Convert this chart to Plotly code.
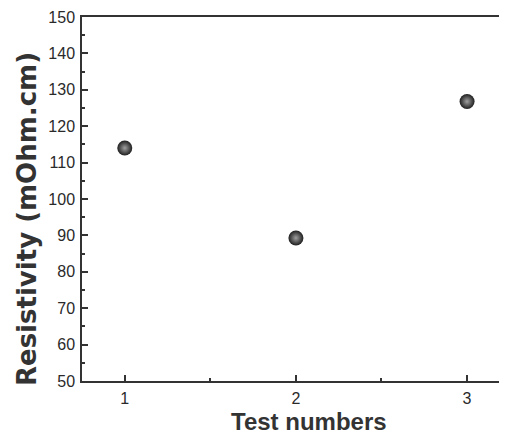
import plotly.graph_objects as go

test_numbers = [1, 2, 3]
resistivity = [114, 89.3, 126.8]
x_ticks = [1, 2, 3]
y_ticks = [50, 60, 70, 80, 90, 100, 110, 120, 130, 140, 150]
x_title = "Test numbers"
y_title = "Resistivity (mOhm.cm)"

fig = go.Figure()
fig.add_trace(go.Scatter(
    x=test_numbers, y=resistivity, mode="markers",
    marker=dict(size=15, color="#1e1e1e",
                gradient=dict(type="radial", color="#a0a0a0"),
                line=dict(width=0)),
    showlegend=False,
))

axis_common = dict(
    showgrid=False, zeroline=False, showline=True, linecolor="#333", linewidth=1.5,
    ticks="inside", tickcolor="#333", ticklen=6, tickwidth=1.5, automargin=False,
    tickfont=dict(family="Liberation Sans, Arial", size=16, color="#2a2a2a"),
)

# page body adds an 8px margin, so the figure is sized 8px smaller
fig.update_layout(
    width=499, height=432,
    margin=dict(l=74, r=4, t=9, b=59),
    plot_bgcolor="white", paper_bgcolor="white",
    xaxis=dict(range=[0.75, 3.21], tickvals=x_ticks, mirror=True, ticklabelstandoff=2,
               minor=dict(dtick=0.5, tick0=0.5, ticks="inside", ticklen=3, tickcolor="#333", tickwidth=1.5),
               **axis_common),
    yaxis=dict(range=[50, 150], tickvals=y_ticks, mirror=False, ticklabelstandoff=2,
               minor=dict(dtick=5, ticks="inside", ticklen=3, tickcolor="#333", tickwidth=1.5),
               **axis_common),
    annotations=[
        dict(text=x_title, xref="paper", yref="paper", x=0.539, y=0, yshift=-40,
             xanchor="center", yanchor="middle", showarrow=False,
             font=dict(family="Liberation Sans, Arial", size=24, color="#333", weight="bold")),
        dict(text=y_title, xref="paper", yref="paper", x=0, xshift=-55, y=0.445,
             xanchor="center", yanchor="middle", textangle=-90, showarrow=False,
             font=dict(family="DejaVu Sans", size=26, color="#333", weight="bold")),
    ],
)

fig.write_html("out.html")
